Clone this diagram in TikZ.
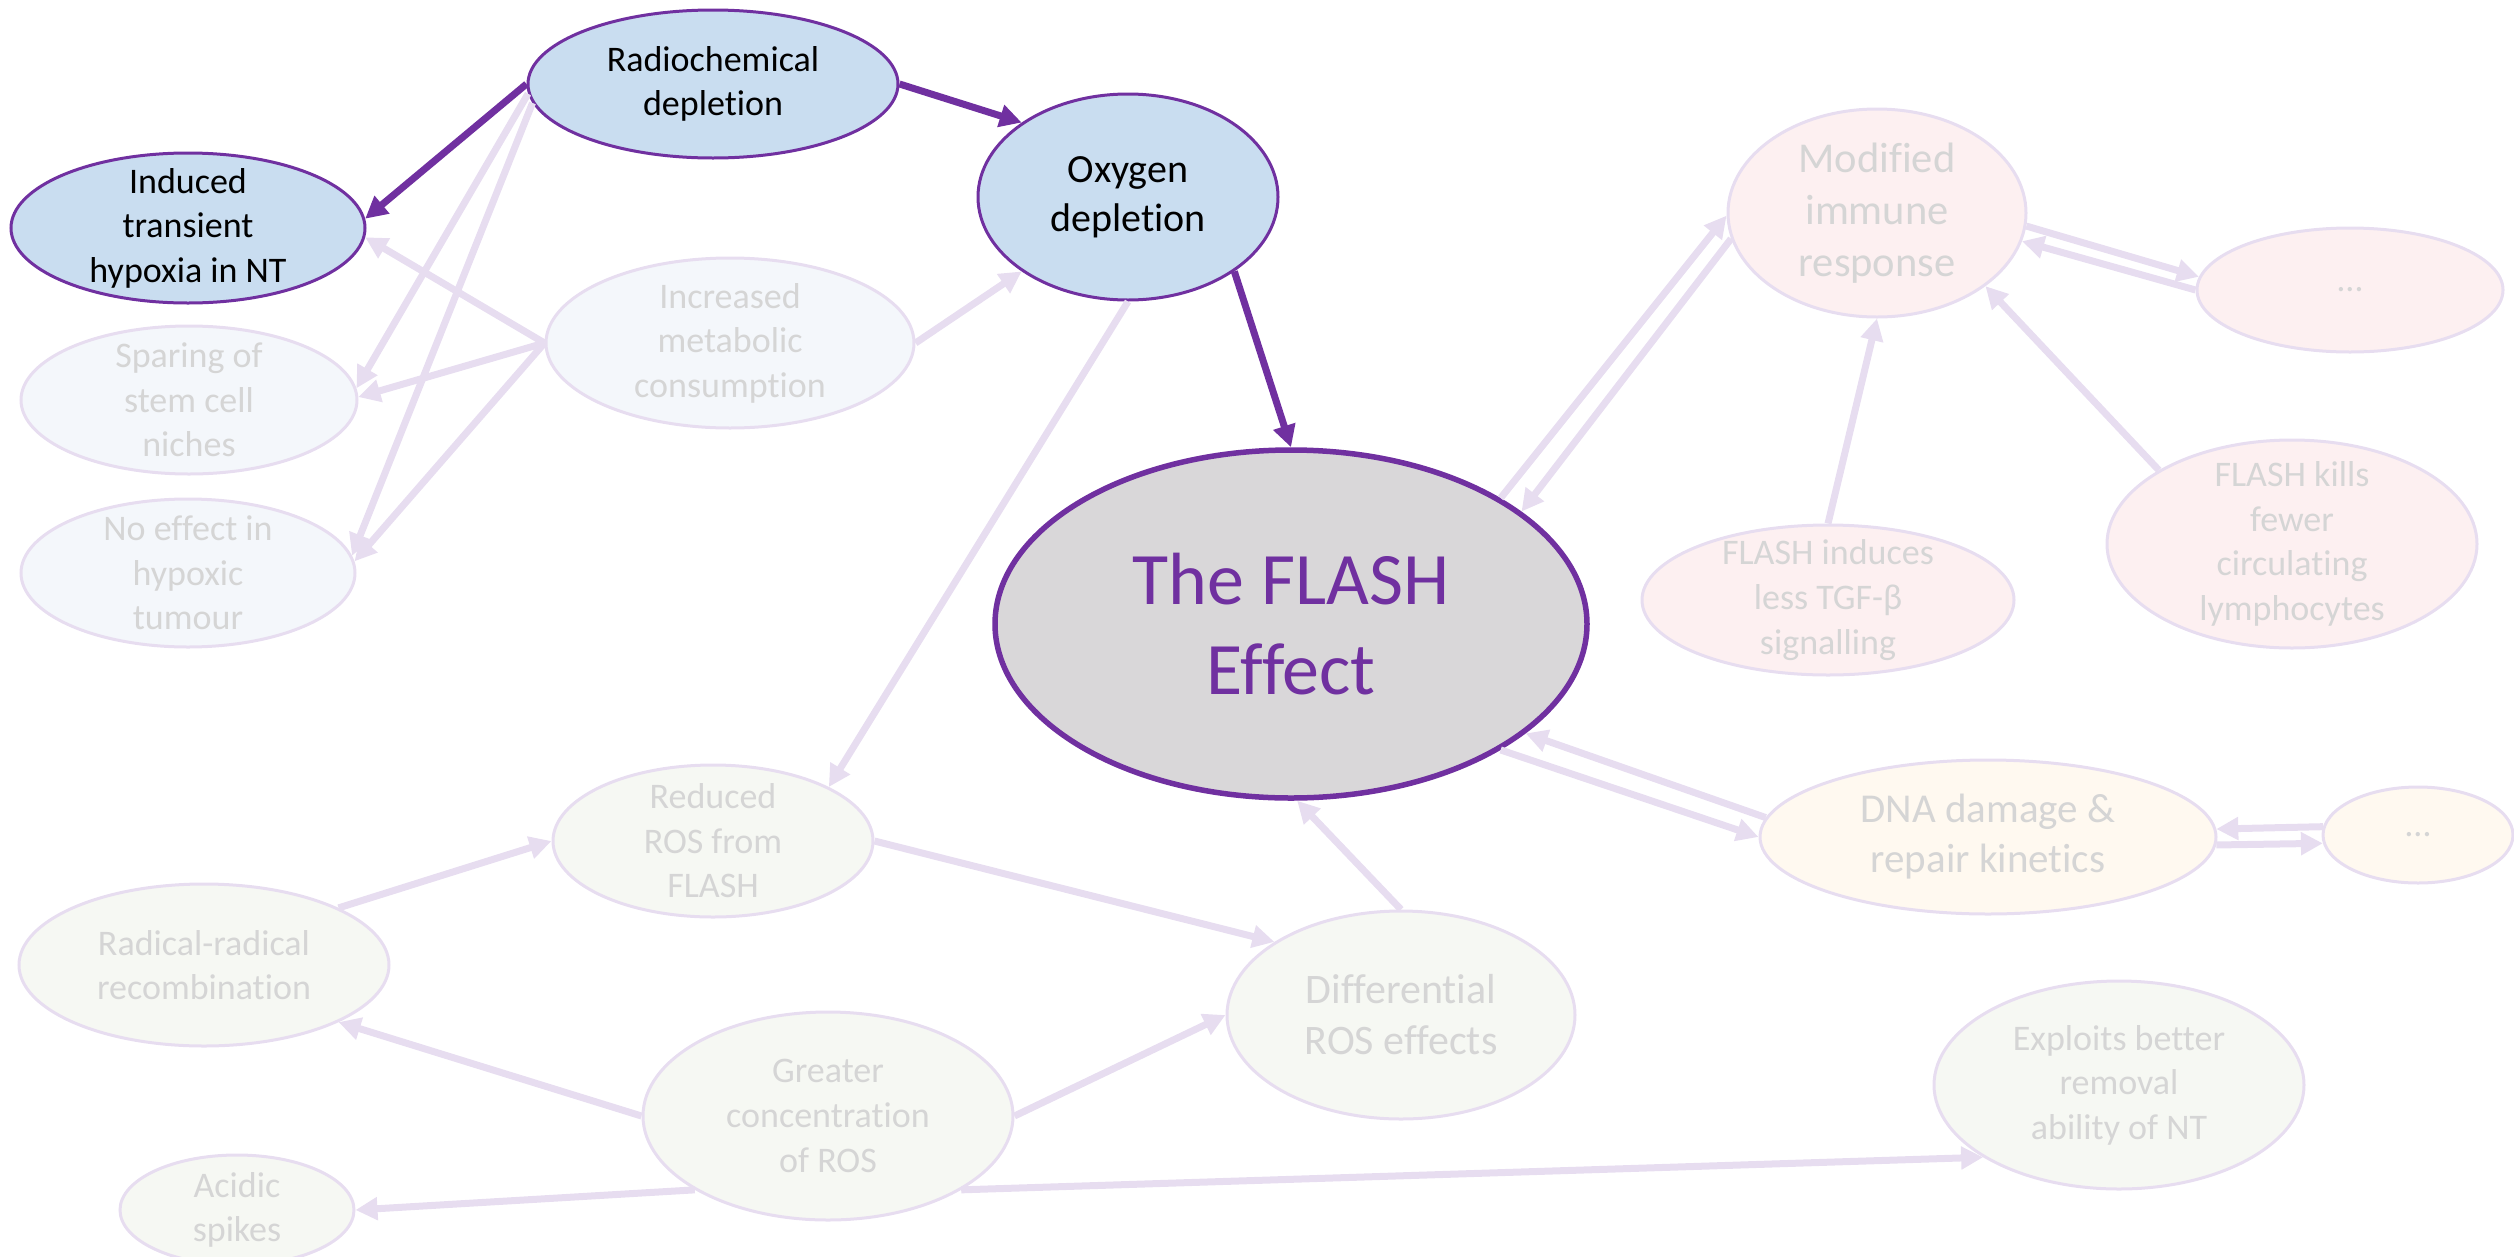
\documentclass[tikz,border=0pt]{standalone}
\usepackage{fontspec}
\setmainfont{Carlito}[Ligatures={NoCommon,NoRare}]
\usetikzlibrary{arrows.meta,shapes.geometric}
\definecolor{flashpurple}{HTML}{7030A0}
\definecolor{activefill}{HTML}{C9DDF0}
\definecolor{corefill}{HTML}{D9D7D9}
\definecolor{fadeline}{HTML}{E7DDF0}
\definecolor{fadetext}{HTML}{D5D5D5}
\definecolor{fadeblue}{HTML}{F4F7FB}
\definecolor{fadepink}{HTML}{FDF0F1}
\definecolor{fadecream}{HTML}{FFF9F0}
\definecolor{fadegreen}{HTML}{F6F8F3}

\begin{document}
\begin{tikzpicture}[x=1pt,y=-1pt,
  sz/.style 2 args={minimum width=#1pt,minimum height=#2pt},
  bubble/.style={ellipse,inner xsep=-20pt,inner ysep=-40pt,align=center,
    font=\fontsize{36}{44.6}\selectfont},
  active/.style={bubble,draw=flashpurple,line width=3pt,fill=activefill,text=black},
  faded/.style={bubble,draw=fadeline,line width=3pt,text=fadetext},
  core/.style={bubble,draw=flashpurple,line width=5.5pt,fill=corefill,text=flashpurple,
    font=\fontsize{74}{90}\selectfont},
  mainarrow/.style={draw=flashpurple,line width=7pt,-{Triangle[length=22pt,width=22pt]}},
  fadearrow/.style={draw=fadeline,line width=7pt,-{Triangle[length=22pt,width=22pt]}}
]
\useasboundingbox (0,0) rectangle (2514,1256);

% oxygen branch
\node[active,sz={370}{148}] (rad) at (713,84) {Radiochemical\\depletion};
\node[active,sz={354}{150}] (hyp) at (188,228) {Induced\\transient\\hypoxia in NT};
\node[active,sz={300}{206},font=\fontsize{40}{49}\selectfont] (oxy) at (1128,197) {Oxygen\\depletion};
\node[faded,fill=fadeblue,sz={368}{170}] (inc) at (730,343) {Increased\\metabolic\\consumption};
\node[faded,fill=fadeblue,sz={336}{148}] (spa) at (189,400) {Sparing of\\stem cell\\niches};
\node[faded,fill=fadeblue,sz={334}{148}] (noe) at (188,573) {No effect in\\hypoxic\\tumour};

% central node
\node[core,sz={592}{348}] (fla) at (1291,624) {The FLASH\\Effect};

% immune branch
\node[faded,fill=fadepink,sz={298}{208},font=\fontsize{42.5}{52}\selectfont] (imm) at (1877,213) {Modified\\immune\\response};
\node[faded,fill=fadepink,sz={306}{124}] (dta) at (2350,290) {…};
\node[faded,fill=fadepink,sz={372}{150}] (tgf) at (1828,600) {FLASH induces\\less TGF-β\\signalling};
\node[faded,fill=fadepink,sz={370}{208}] (kil) at (2292,544) {FLASH kills\\fewer\\circulating\\lymphocytes};

% DNA branch
\node[faded,fill=fadecream,sz={456}{154},font=\fontsize{41}{50}\selectfont] (dna) at (1988,837) {DNA damage \&\\repair kinetics};
\node[faded,fill=fadecream,sz={190}{96}] (dtb) at (2418,835) {…};

% ROS branch
\node[faded,fill=fadegreen,sz={320}{152}] (red) at (713,841) {Reduced\\ROS from\\FLASH};
\node[faded,fill=fadegreen,sz={370}{162}] (rr) at (204,965) {Radical-radical\\recombination};
\node[faded,fill=fadegreen,sz={370}{208}] (gre) at (828,1116) {Greater\\concentration\\of ROS};
\node[faded,fill=fadegreen,sz={234}{110}] (aci) at (237,1210) {Acidic\\spikes};
\node[faded,fill=fadegreen,sz={348}{208},font=\fontsize{42}{51}\selectfont] (dif) at (1401,1015) {Differential\\ROS effects};
\node[faded,fill=fadegreen,sz={370}{208}] (exp) at (2119,1085) {Exploits better\\removal\\ability of NT};

% faded connectors
\draw[fadearrow] (rad.183) -- (spa.4);
\draw[fadearrow] (rad.186) -- (noe.6);
\draw[fadearrow] (inc.180) -- (hyp.-3);
\draw[fadearrow] (inc.180) -- (spa.1);
\draw[fadearrow] (inc.180) -- (noe.4);
\draw[fadearrow] (inc.0) -- (oxy.215);
\draw[fadearrow] (oxy.270) -- (red.25);
\draw[fadearrow] (red.0) -- (dif.150);
\draw[fadearrow] (rr.23) -- (red.180);
\draw[fadearrow] (gre.180) -- (rr.-23);
\draw[fadearrow] (gre.0) -- (dif.180);
\draw[fadearrow] (gre.209) -- (aci.0);
\draw[fadearrow] (gre.-29) -- (exp.208);
\draw[fadearrow] (dif.90) -- (fla.-88);
\draw[fadearrow] (fla.-31) -- (dna.180);
\draw[fadearrow] (dna.175) -- (fla.-25);
\draw[fadearrow] (dtb.175) -- (dna.2);
\draw[fadearrow] (dna.-2) -- (dtb.185);
\draw[fadearrow] (fla.31) -- (imm.181);
\draw[fadearrow] (imm.190) -- (fla.26);
\draw[fadearrow] (imm.-5) -- (dta.175);
\draw[fadearrow] (dta.180) -- (imm.-11);
\draw[fadearrow] (tgf.90) -- (imm.270);
\draw[fadearrow] (kil.151) -- (imm.-34);

% highlighted path
\draw[mainarrow] (rad.0) -- (oxy.145);
\draw[mainarrow] (rad.180) -- (hyp.3);
\draw[mainarrow] (oxy.-35) -- (fla.90);
\end{tikzpicture}
\end{document}
